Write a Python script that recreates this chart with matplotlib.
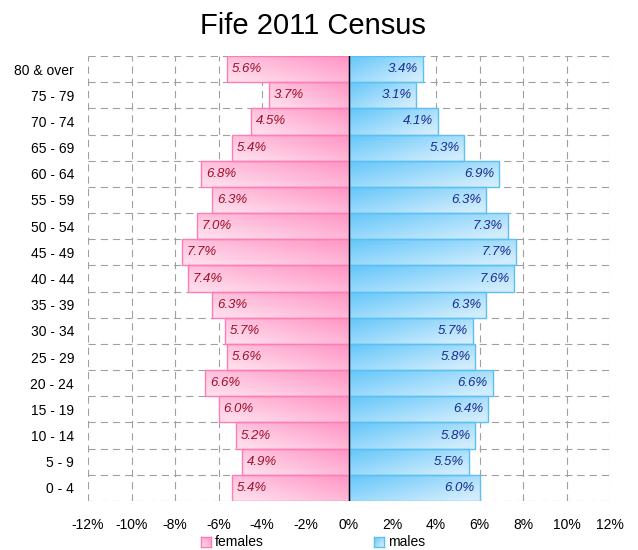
import numpy as np
import matplotlib
matplotlib.use('Agg')
import matplotlib.pyplot as plt
from matplotlib.colors import to_rgb

plt.rcParams['font.family'] = ['Liberation Sans', 'DejaVu Sans']

title = 'Fife 2011 Census'
age_groups = ['80 & over', '75 - 79', '70 - 74', '65 - 69', '60 - 64', '55 - 59',
              '50 - 54', '45 - 49', '40 - 44', '35 - 39', '30 - 34', '25 - 29',
              '20 - 24', '15 - 19', '10 - 14', '5 - 9', '0 - 4']
females = [5.6, 3.7, 4.5, 5.4, 6.8, 6.3, 7.0, 7.7, 7.4, 6.3, 5.7, 5.6, 6.6, 6.0, 5.2, 4.9, 5.4]
males = [3.4, 3.1, 4.1, 5.3, 6.9, 6.3, 7.3, 7.7, 7.6, 6.3, 5.7, 5.8, 6.6, 6.4, 5.8, 5.5, 6.0]
x_ticks = list(range(-12, 13, 2))
x_tick_labels = [f'{t}%' for t in x_ticks]
series_names = ['females', 'males']

F_DARK, F_LIGHT, F_EDGE, F_TEXT = '#ff94c4', '#ffdcec', '#ff7db5', '#9a1028'
M_DARK, M_LIGHT, M_EDGE, M_TEXT = '#62c6fa', '#d2edfd', '#5cc0f2', '#1a2a8a'


def grad_img(dark, light, flip):
    h, w = 24, 80
    u = np.linspace(0, 1, w)
    v = np.linspace(0, 1, h)
    U, V = np.meshgrid(u, v)
    t = np.clip(0.6 * U + 0.5 * V, 0, 1)
    d = np.array(to_rgb(dark))
    l = np.array(to_rgb(light))
    img = d[None, None, :] * (1 - t)[..., None] + l[None, None, :] * t[..., None]
    if flip:
        img = img[:, ::-1]
    return img


fig = plt.figure(figsize=(6.38, 5.5), dpi=100)
ax = fig.add_axes([88 / 638, 1 - 501 / 550, 522 / 638, 445 / 550])
n = len(age_groups)
ypos = np.arange(n)[::-1]

fbars = ax.barh(ypos, [-f for f in females], height=1.0, facecolor='none',
                edgecolor=F_EDGE, linewidth=1.0, zorder=3)
mbars = ax.barh(ypos, males, height=1.0, facecolor='none',
                edgecolor=M_EDGE, linewidth=1.0, zorder=3)

fimg = grad_img(F_DARK, F_LIGHT, True)
mimg = grad_img(M_DARK, M_LIGHT, False)
for bars, img in ((fbars, fimg), (mbars, mimg)):
    for p in bars.patches:
        x0, y0 = p.get_x(), p.get_y()
        w, h = p.get_width(), p.get_height()
        left, right = min(x0, x0 + w), max(x0, x0 + w)
        im = ax.imshow(img, extent=(left, right, y0, y0 + h), origin='upper',
                       aspect='auto', zorder=2.5, interpolation='bilinear')
        im.set_clip_path(p)

for y, f, m in zip(ypos, females, males):
    ax.text(-f + 0.22, y, f'{f:.1f}%', ha='left', va='center', style='italic',
            fontsize=9.5, color=F_TEXT, zorder=4)
    ax.text(m - 0.22, y, f'{m:.1f}%', ha='right', va='center', style='italic',
            fontsize=9.5, color=M_TEXT, zorder=4)

ax.axvline(0, color='black', lw=1.0, zorder=5)

ax.set_xlim(-12, 12)
ax.set_ylim(-0.5, n - 0.5)
ax.set_xticks(x_ticks)
ax.set_xticklabels(x_tick_labels)
ax.set_yticks(ypos)
ax.set_yticklabels(age_groups)
ax.set_yticks(np.arange(-0.5, n, 1.0), minor=True)
ax.tick_params(axis='both', which='both', length=0)
ax.tick_params(axis='x', pad=12, labelsize=10)
ax.tick_params(axis='y', pad=10, labelsize=10)
dash = (0, (6.5, 4.5))
ax.grid(axis='x', which='major', ls=dash, color='#a0a0a0', lw=0.8, zorder=1)
ax.grid(axis='y', which='minor', ls=dash, color='#a0a0a0', lw=0.8, zorder=1)
ax.grid(axis='y', which='major', visible=False)
for s in ax.spines.values():
    s.set_visible(False)
ax.set_axisbelow(True)

fig.text(313 / 638, 1 - 26 / 550, title, ha='center', va='center', fontsize=21)

# legend
for name, img_src, edge, sx, tx in ((series_names[0], fimg, F_EDGE, 201, 215),
                                    (series_names[1], mimg, M_EDGE, 374, 388)):
    lax = fig.add_axes([sx / 638, 1 - 547 / 550, 10 / 638, 10 / 550])
    lax.imshow(img_src if name == 'males' else img_src, aspect='auto',
               extent=(0, 1, 0, 1), interpolation='bilinear')
    lax.set_xticks([])
    lax.set_yticks([])
    for s in lax.spines.values():
        s.set_color(edge)
        s.set_linewidth(1.0)
    fig.text(tx / 638, 1 - 542 / 550, name, ha='left', va='center', fontsize=10)

fig.savefig('out.png', dpi=100)
